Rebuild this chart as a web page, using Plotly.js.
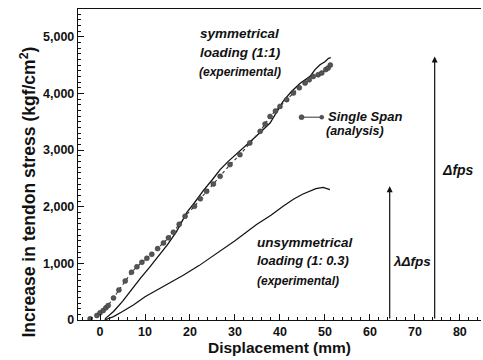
<!DOCTYPE html>
<html><head><meta charset="utf-8">
<script src="https://cdn.plot.ly/plotly-3.0.1.min.js"></script>
<style>html,body{margin:0;padding:0;background:#fff}#chart{width:483px;height:360px}</style>
</head><body><div id="chart"></div>
<script>
// Single span analysis (dots, dotted line)
const anaX = [-2.2, -0.7, 0, 0.7, 1.3, 1.8, 3.0, 4.2, 5.6, 7.0, 8.2, 9.3, 10.4, 11.5, 12.8, 14.1, 15.2, 16.3, 17.6, 18.9, 21.0, 22.3, 23.7, 25.2, 26.7, 28.9, 31.1, 33.3, 35.6, 36.7, 37.8, 39.0, 40.0, 41.5, 43.0, 44.3, 45.6, 46.5, 47.4, 48.5, 49.3, 50.2, 50.7, 51.2];
const anaY = [20, 80, 127, 167, 215, 255, 390, 530, 690, 843, 940, 1020, 1090, 1160, 1260, 1361, 1450, 1549, 1690, 1831, 2007, 2140, 2272, 2400, 2536, 2743, 2919, 3125, 3330, 3460, 3594, 3690, 3771, 3890, 4007, 4100, 4183, 4240, 4300, 4330, 4360, 4420, 4448, 4500];
// Symmetrical loading (1:1) experimental
const symX = [1.1, 3, 5, 7, 9, 11, 13, 15, 17, 19.3, 21, 23, 25, 26.7, 28.5, 30.4, 32.2, 34.1, 36, 37.8, 39.5, 40.7, 42.5, 44.5, 46.7, 47.8, 48.9, 50, 50.8, 51.3];
const symY = [20, 150, 330, 540, 740, 930, 1120, 1330, 1560, 1900, 2070, 2290, 2480, 2654, 2800, 2930, 3060, 3200, 3340, 3478, 3700, 3860, 4030, 4180, 4300, 4420, 4506, 4560, 4620, 4630];
// Unsymmetrical loading (1:0.3) experimental
const unsX = [1, 3, 5, 7.5, 10, 12.5, 15, 18.5, 22, 26, 30, 34.8, 38, 40.7, 43, 45, 46.7, 48, 49.6, 51.1];
const unsY = [0, 60, 150, 270, 410, 520, 630, 790, 960, 1180, 1400, 1684, 1850, 2007, 2130, 2220, 2272, 2320, 2342, 2302];
// Stress increment markers
const arrowX = [64.4, 74.4];
const arrowTop = [2360, 4650];
const arrowLabels = ['λΔfps', 'Δfps'];

const F = 'Liberation Sans, Arial, Helvetica, sans-serif';
const traces = [
  {x: symX, y: symY, mode: 'lines', line: {color: '#111', width: 1.3}, hoverinfo: 'skip'},
  {x: unsX, y: unsY, mode: 'lines', line: {color: '#111', width: 1.2}, hoverinfo: 'skip'},
  {x: anaX, y: anaY, mode: 'lines+markers', line: {color: '#333', width: 1.1, dash: 'dot'},
   marker: {color: '#555', size: 5, line: {color: '#333', width: 0.5}}, hoverinfo: 'skip'}
];

const ann = [];
const bi = (t, x, y, size) => ({text: '<b><i>' + t + '</i></b>', x: x, y: y, xref: 'x', yref: 'y', showarrow: false,
  xanchor: 'left', yanchor: 'middle', font: {family: F, size: size, color: '#111'}});
ann.push(bi('symmetrical', 21.8, 5060, 13.5));
ann.push(bi('loading (1:1)', 21.8, 4715, 13.5));
ann.push(bi('(experimental)', 21.6, 4370, 12));
ann.push(bi('unsymmetrical', 34.4, 1365, 13.5));
ann.push(bi('loading (1: 0.3)', 34.4, 1055, 13));
ann.push(bi('(experimental)', 34.4, 680, 12));
ann.push(bi('Single Span', 50.3, 3600, 13));
ann.push(bi('(analysis)', 49.9, 3342, 12.5));
ann.push(bi(arrowLabels[0], 64.8, 1035, 13.5));
ann.push(bi(arrowLabels[1], 75.5, 2645, 14));
for (let i = 0; i < arrowX.length; i++) {
  ann.push({x: arrowX[i], y: arrowTop[i], ax: arrowX[i], ay: 0, xref: 'x', yref: 'y', axref: 'x', ayref: 'y',
    text: '', showarrow: true, arrowhead: 2, arrowsize: 1, arrowwidth: 1.2, arrowcolor: '#111'});
}
ann.push({text: '<b>Increase in tendon stress (kgf/cm<sup>2</sup>)</b>', xref: 'paper', yref: 'paper',
  x: -0.124, y: 0.41, xanchor: 'center', yanchor: 'middle', textangle: -90, showarrow: false,
  font: {family: F, size: 17.5, color: '#111'}});

const shapes = [
  {type: 'line', xref: 'x', yref: 'y', x0: 44.8, x1: 49.3, y0: 3580, y1: 3580, line: {color: '#333', width: 1}},
  {type: 'circle', xref: 'x', yref: 'y', xsizemode: 'pixel', ysizemode: 'pixel', xanchor: 44.8, yanchor: 3580,
   x0: -2.5, x1: 2.5, y0: -2.5, y1: 2.5, fillcolor: '#555', line: {color: '#333', width: 0.5}},
  {type: 'circle', xref: 'x', yref: 'y', xsizemode: 'pixel', ysizemode: 'pixel', xanchor: 49.3, yanchor: 3580,
   x0: -2, x1: 2, y0: -2, y1: 2, fillcolor: '#555', line: {color: '#333', width: 0.5}}
];

const layout = {
  width: 483, height: 360, margin: {l: 78, r: 2, t: 9, b: 40},
  paper_bgcolor: '#fff', plot_bgcolor: '#fff', showlegend: false,
  font: {family: F, color: '#111'},
  xaxis: {range: [-4.9, 84.7], tickmode: 'array', tickvals: [0, 10, 20, 30, 40, 50, 60, 70, 80],
    ticks: 'inside', ticklen: 6, tickwidth: 1, tickcolor: '#111', showgrid: false, zeroline: false,
    showline: true, linecolor: '#111', linewidth: 1.2, mirror: true,
    minor: {dtick: 2, ticks: 'inside', ticklen: 3, tickcolor: '#111', showgrid: false},
    tickfont: {family: F, size: 12.5, weight: 'bold', color: '#111'},
    title: {text: '<b>Displacement (mm)</b>', font: {family: F, size: 15.5, color: '#111'}, standoff: 4}},
  yaxis: {range: [0, 5490], tickmode: 'array', tickvals: [0, 1000, 2000, 3000, 4000, 5000], tickformat: ',d',
    ticks: 'inside', ticklen: 6, tickwidth: 1, tickcolor: '#111', showgrid: false, zeroline: false,
    showline: true, linecolor: '#111', linewidth: 1.2,
    minor: {dtick: 100, ticks: 'inside', ticklen: 3, tickcolor: '#111', showgrid: false},
    tickfont: {family: F, size: 12.5, weight: 'bold', color: '#111'}},
  annotations: ann, shapes: shapes
};
Plotly.newPlot('chart', traces, layout, {staticPlot: true, displayModeBar: false});
</script></body></html>
